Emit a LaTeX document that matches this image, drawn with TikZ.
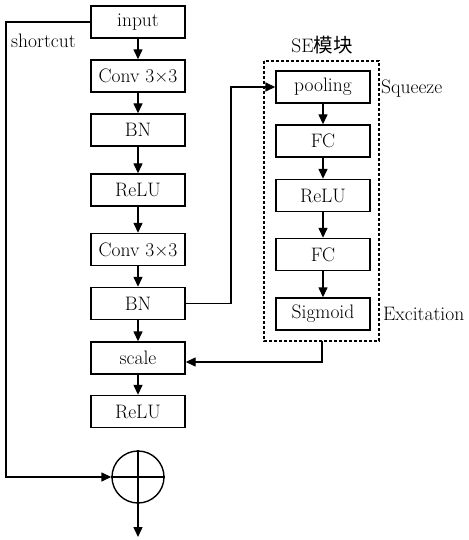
\documentclass[tikz,border=0pt]{standalone}
\usepackage{fontspec}
\newfontfamily\cjk{Noto Sans CJK SC}
\usetikzlibrary{arrows.meta}
\begin{document}
\begin{tikzpicture}[x=1pt,y=-1pt,
  every node/.style={font=\fontsize{19.5}{22}\selectfont},
  blk/.style={draw,line width=1.4pt,minimum width=94pt,minimum height=32pt,inner sep=0pt},
  conn/.style={line width=1.4pt},
  arr/.style={conn,-{Triangle[length=10pt,width=9pt]}}]
\useasboundingbox (0,0) rectangle (468,540);
% left column
\node[blk] (in) at (138,22) {input};
\node[blk] (c1) at (138,76) {Conv 3\texttimes3};
\node[blk] (b1) at (138,130) {BN};
\node[blk] (r1) at (138,190) {ReLU};
\node[blk] (c2) at (138,249.5) {Conv 3\texttimes3};
\node[blk] (b2) at (138,303.5) {BN};
\node[blk] (sc) at (138,358) {scale};
\node[blk] (r2) at (138,411.5) {ReLU};
\node[draw,circle,line width=1.4pt,minimum size=52pt,inner sep=0pt] (plus) at (138,477) {};
\draw[conn] (plus.north) -- (plus.south) (plus.west) -- (plus.east);
\coordinate (out) at (138,537);
% SE column
\node[blk] (p) at (323,87) {pooling};
\node[blk] (f1) at (323,141) {FC};
\node[blk] (r3) at (323,195.5) {ReLU};
\node[blk] (f2) at (323,254.5) {FC};
\node[blk] (sg) at (323,314) {Sigmoid};
\draw[line width=1.4pt,dash pattern=on 3pt off 2pt] (264,61) rectangle (379,341);
\coordinate (seb) at (322,341);
\node (setitle) at (322,45) {SE{\cjk 模块}};
\node[anchor=west,inner sep=0pt] (sq) at (381,89) {Squeeze};
\node[anchor=west,inner sep=0pt] (ex) at (383,314) {Excitation};
\node[anchor=west,inner sep=0pt] (sl) at (11,41) {shortcut};
% arrows
\draw[arr] (in) -- (c1);
\draw[arr] (c1) -- (b1);
\draw[arr] (b1) -- (r1);
\draw[arr] (r1) -- (c2);
\draw[arr] (c2) -- (b2);
\draw[arr] (b2) -- (sc);
\draw[arr] (sc) -- (r2);
\draw[arr] (p) -- (f1);
\draw[arr] (f1) -- (r3);
\draw[arr] (r3) -- (f2);
\draw[arr] (f2) -- (sg);
\draw[arr] (b2.east) -- (231,303.5) -- (231,87) -- (p.west);
\draw[arr] (seb) -- (322,362) -- (sc.east |- 0,362);
\draw[arr] (in.west) -- (6,22) -- (6,477) -- (plus.west);
\draw[arr] (plus.south) -- (out);
\end{tikzpicture}
\end{document}
